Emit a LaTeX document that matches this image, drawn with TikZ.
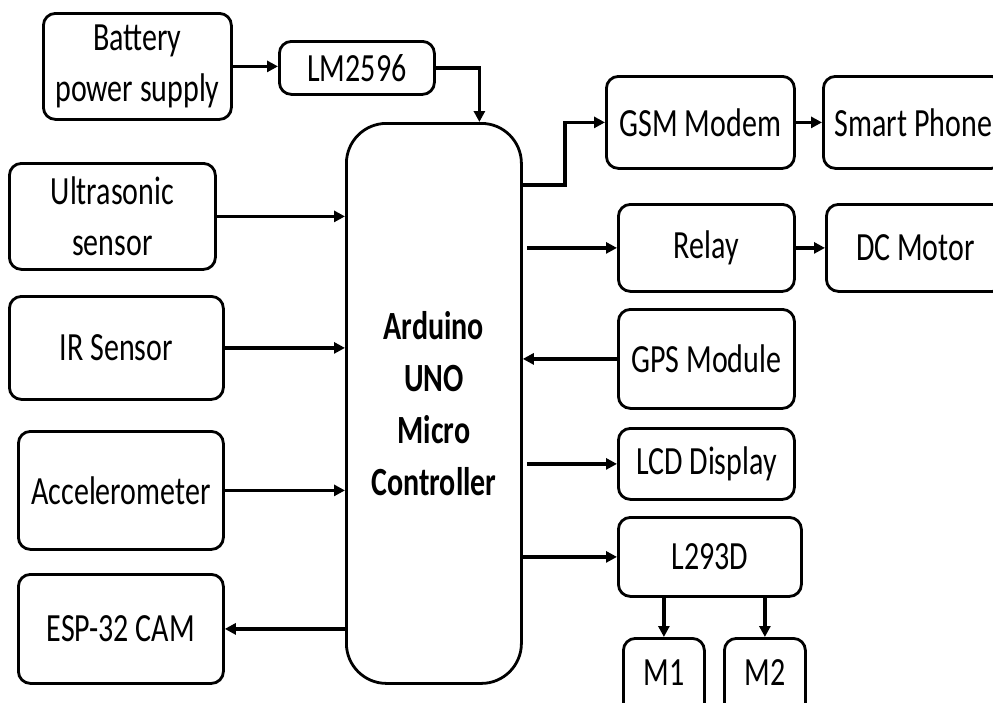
\documentclass[tikz,border=0pt]{standalone}
\usepackage{fontspec}
\setmainfont{Carlito}[FakeStretch=0.75]
\usetikzlibrary{arrows.meta}
\tikzset{
  blk/.style={draw, line width=2.8pt, rounded corners=12pt, align=center, anchor=north west, inner sep=0pt,
    font=\fontsize{40}{51}\selectfont},
  arr/.style={line width=3.5pt, -{Triangle[length=11pt,width=11pt]}},
}
\begin{document}
\begin{tikzpicture}[x=1pt,y=-1pt]
\clip (0,0) rectangle (993,702);
\fill[white] (0,0) rectangle (993,702);
% left column
\node[blk, minimum width=188pt, minimum height=106pt] (bat) at (42,12) {Battery\\power supply};
\node[blk, minimum width=155pt, minimum height=53pt] (lm) at (278,40) {LM2596};
\node[blk, minimum width=206pt, minimum height=106pt] (us) at (8,162) {Ultrasonic\\sensor};
\node[blk, minimum width=214pt, minimum height=103pt] (ir) at (8,295) {IR Sensor};
\node[blk, minimum width=205pt, minimum height=118pt] (acc) at (17,430) {Accelerometer};
\node[blk, minimum width=205pt, minimum height=109pt] (esp) at (17,573) {ESP-32 CAM};
% controller
\node[blk, rounded corners=40pt, minimum width=175pt, minimum height=560pt, font=\fontsize{40}{52}\selectfont\bfseries] (ard) at (345,122) {Arduino\\UNO\\Micro\\Controller};
% right column
\node[blk, minimum width=188pt, minimum height=92pt] (gsm) at (605,75) {GSM Modem};
\node[blk, minimum width=180pt, minimum height=92pt] (sp) at (822,75) {Smart Phone};
\node[blk, minimum width=176pt, minimum height=87pt] (relay) at (617,203) {Relay};
\node[blk, minimum width=178pt, minimum height=87pt] (dc) at (825,203) {DC Motor};
\node[blk, minimum width=176pt, minimum height=99pt] (gps) at (617,308) {GPS Module};
\node[blk, minimum width=176pt, minimum height=71pt] (lcd) at (617,427) {LCD Display};
\node[blk, minimum width=183pt, minimum height=79pt] (drv) at (617,516) {L293D};
\node[blk, minimum width=81pt, minimum height=90pt] (m1) at (622,637) {\raisebox{22pt}{M1}};
\node[blk, minimum width=81pt, minimum height=90pt] (m2) at (723,637) {\raisebox{22pt}{M2}};
% connectors
\draw[arr] (bat.east) -- (bat.east -| lm.west);
\draw[arr] (lm.east) -| ([xshift=45.5pt]ard.north);
\draw[arr] (us.east) -- (us.east -| ard.west);
\draw[arr] (ir.east) -- (ir.east -| ard.west);
\draw[arr] (acc.east) -- (acc.east -| ard.west);
\draw[arr] (esp.east -| ard.west) -- (esp.east);
\coordinate (gsmout) at (ard.east |- {(0,185)});
\draw[arr] (gsmout) -- ++(42,0) |- (gsm.west);
\draw[arr] (gsm.east) -- (gsm.east -| sp.west);
\draw[arr] ([xshift=4pt]ard.east |- relay.west) -- (relay.west);
\draw[arr] (relay.east) -- (relay.east -| dc.west);
\draw[arr] (gps.west) -- (gps.west -| ard.east);
\draw[arr] ([xshift=4pt]ard.east |- lcd.west) -- (lcd.west);
\draw[arr] (ard.east |- drv.west) -- (drv.west);
\draw[arr] (drv.south -| m1.north) -- (m1.north);
\draw[arr] (drv.south -| m2.north) -- (m2.north);
\end{tikzpicture}
\end{document}
